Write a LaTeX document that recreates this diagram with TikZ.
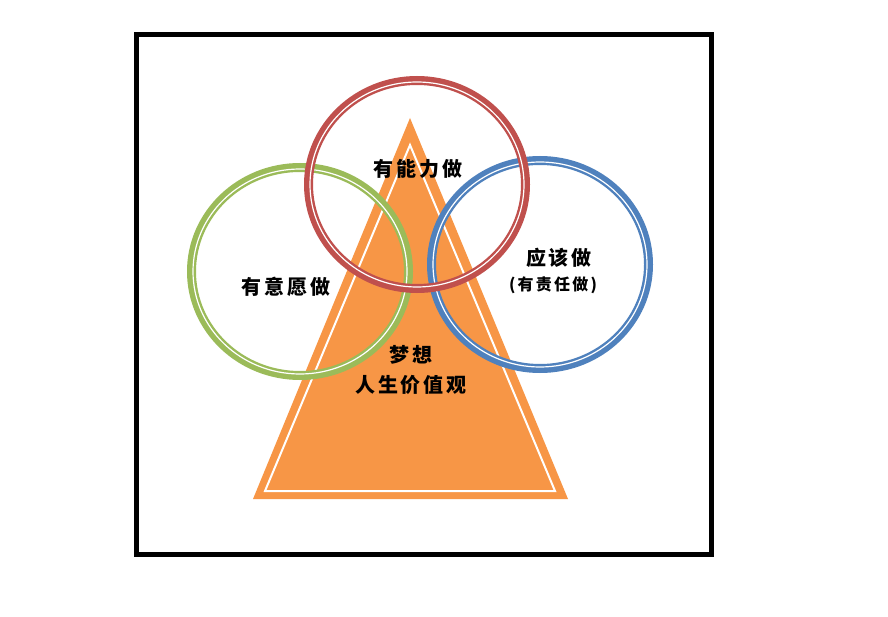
\documentclass[tikz,border=0pt]{standalone}
\usepackage{fontspec}
\usepackage{tikz}
\newfontfamily\cjk[LetterSpace=14]{Noto Sans CJK SC}

\definecolor{ringgreen}{HTML}{9BBB59}
\definecolor{ringred}{HTML}{C0504D}
\definecolor{ringblue}{HTML}{4F81BD}
\definecolor{pyramid}{HTML}{F79646}

\tikzset{
  ring/.style={draw=#1, line width=9pt},
  ringgap/.style={draw=white, line width=1.2pt},
  lbl/.style={inner sep=0pt, font=\cjk\bfseries\fontsize{20}{24}\selectfont},
  sublbl/.style={inner sep=0pt, font=\cjk\bfseries\fontsize{16}{19}\selectfont}
}

\begin{document}
\begin{tikzpicture}[x=1pt, y=-1pt]
            \useasboundingbox (0,0) rectangle (888,617);
            \fill[white] (0,0) rectangle (888,617);
            % frame
            \draw[draw=black, line width=5pt, solid] (136.5,34.5) rectangle (711.5,554.5);
            % pyramid
            \draw[draw=none, fill=pyramid] (410,118) -- (568,499) -- (253,499) -- cycle;
            \draw[draw=white, line width=2pt, line join=miter] (410,145) -- (555,491) -- (265,491) -- cycle;
            % rings
            \draw[ring=ringgreen] (300,271.5) ellipse [x radius=108.5, y radius=104];
            \draw[ringgap] (300,271.5) ellipse [x radius=107, y radius=102.5];
            \draw[ring=ringblue] (540,264.5) ellipse [x radius=108.5, y radius=104];
            \draw[ringgap] (540,264.5) ellipse [x radius=107, y radius=102.5];
            \draw[ring=ringred] (417,184.5) ellipse [x radius=108.5, y radius=104];
            \draw[ringgap] (417,184.5) ellipse [x radius=107, y radius=102.5];
            % labels
            \node[lbl] (able) at (418,169) {有能力做};
            \node[lbl] (willing) at (286,287) {有意愿做};
            \node[lbl] (should) at (559,258) {应该做};
            \node[sublbl] (duty) at (553,285) {(有责任做)};
            \node[lbl] (dream) at (411,355) {梦想};
            \node[lbl] (values) at (411,385) {人生价值观};
        \end{tikzpicture}
\end{document}
